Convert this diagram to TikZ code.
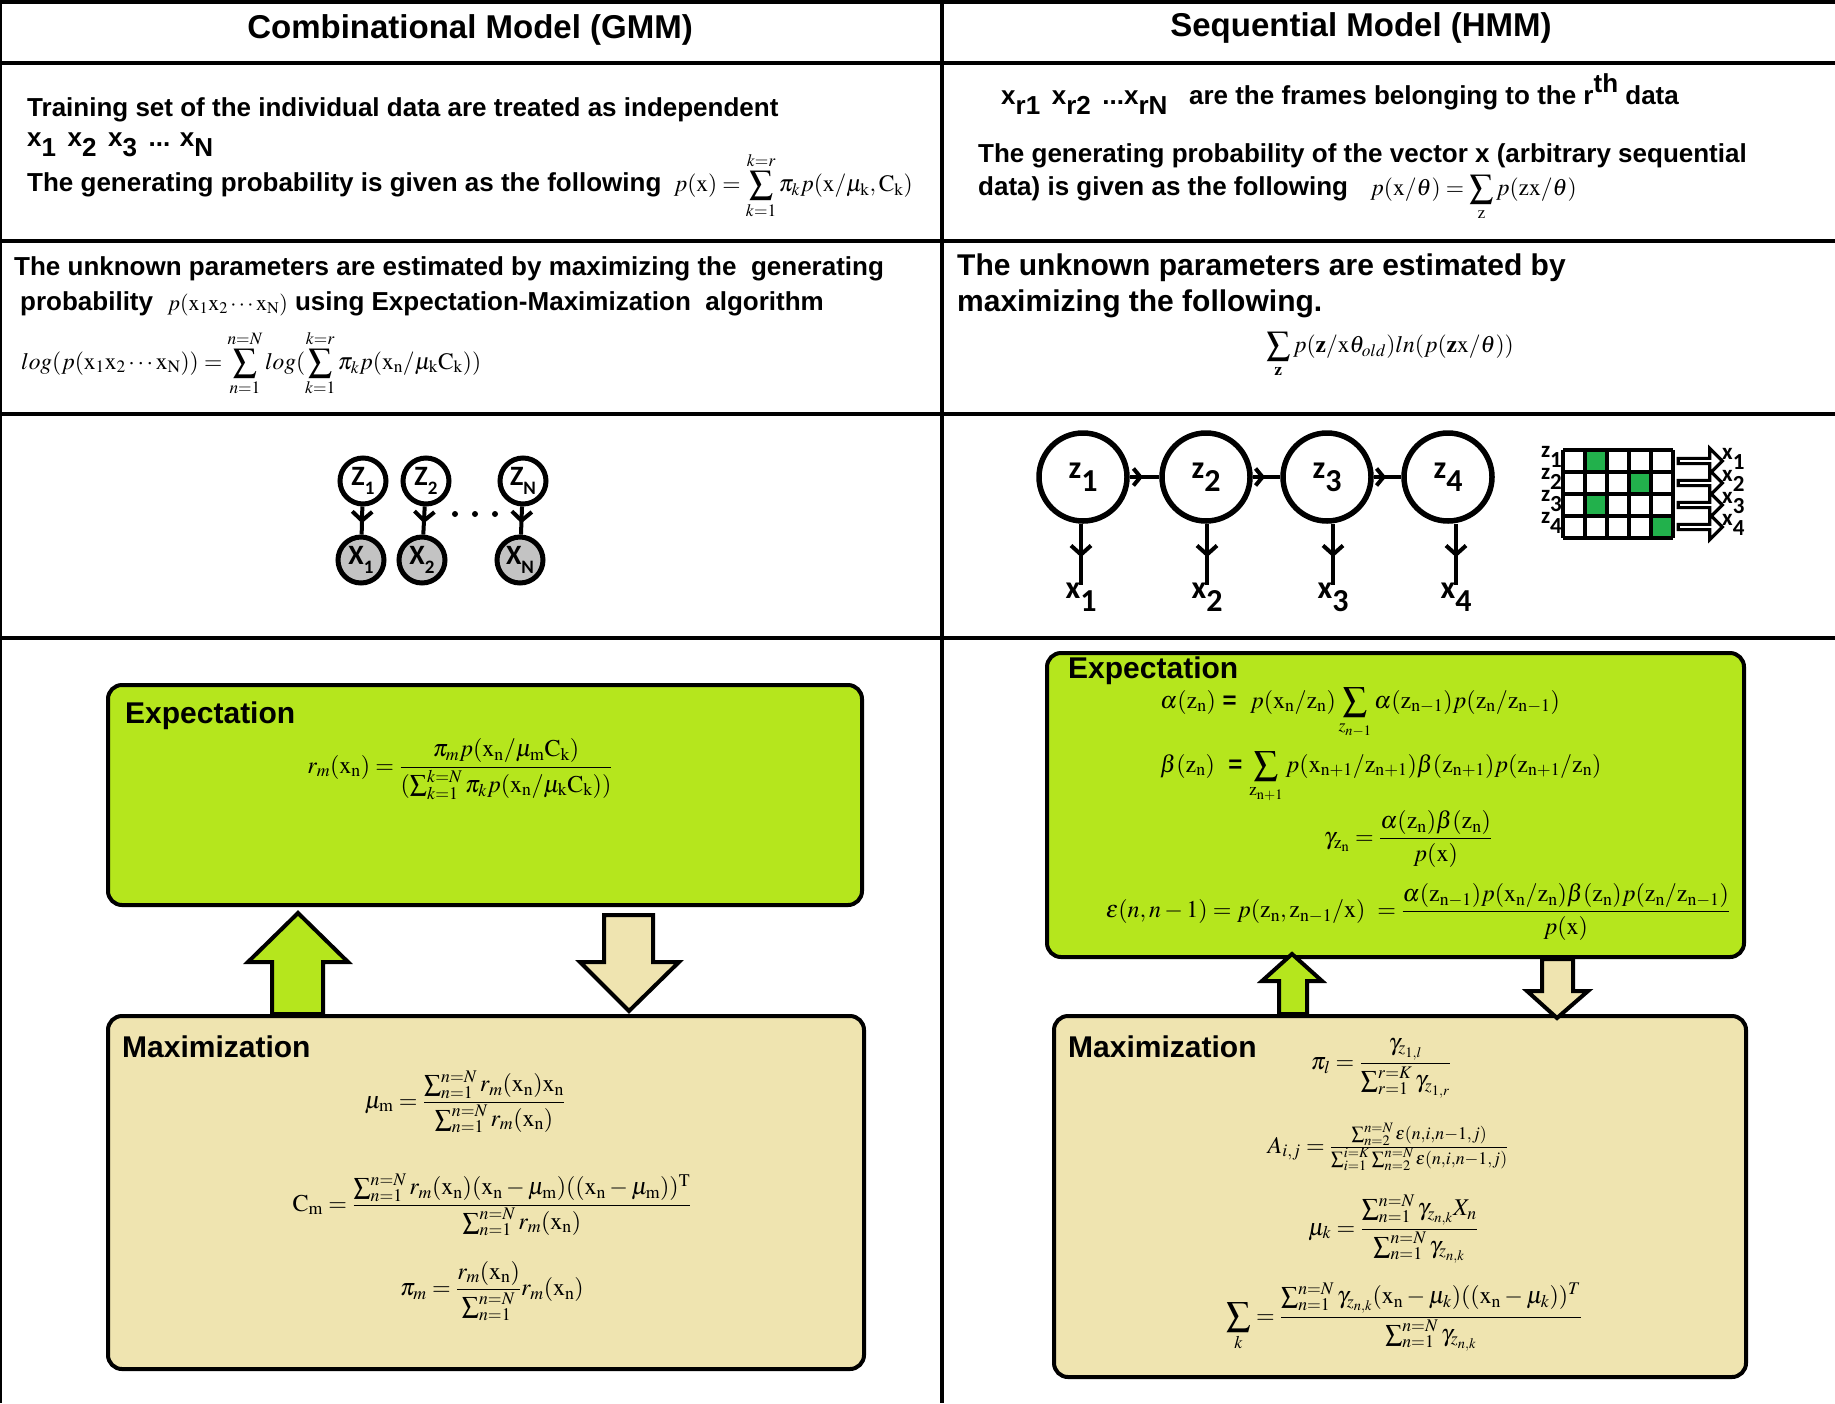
\documentclass[tikz,border=0pt]{standalone}
\usepackage{mathptmx}
\usepackage[no-math]{fontspec}
\setmainfont{Liberation Sans}
\newfontfamily\calib{Carlito}
\usetikzlibrary{positioning}
\usetikzlibrary{calc}
\usetikzlibrary{arrows,arrows.meta}
\usetikzlibrary{decorations.markings}
\usetikzlibrary{shapes}
\definecolor{expgreen}{HTML}{B5E61D}
\definecolor{maxtan}{HTML}{EFE4B0}
\definecolor{cellgreen}{HTML}{22B14C}
\definecolor{nodegray}{HTML}{C3C3C3}
\newcommand{\lowsub}[1]{\raisebox{-0.4em}{#1}}
\newcommand{\upsup}[1]{\raisebox{0.45em}{#1}}
\newcommand{\gsub}[1]{\raisebox{-0.35em}{\fontsize{19}{19}\selectfont #1}}
\begin{document}
\begin{tikzpicture}[x=1pt, y=-1pt, font=\fontsize{26}{31}\selectfont\bfseries]
% -------------------------------------------------
\tikzset{
  rule/.style={line width=4.5},
  txt/.style={anchor=west, inner sep=0},
  big/.style={txt, font=\fontsize{30}{36}\selectfont\bfseries},
  head/.style={inner sep=0, font=\fontsize{33}{40}\selectfont\bfseries},
  eqn/.style={inner sep=0, font=\fontsize{23.5}{28}\selectfont},
  beqn/.style={inner sep=0, font=\fontsize{24}{29}\selectfont},
  box/.style={draw, line width=4, rounded corners=14},
  lat/.style={circle, draw, line width=5, minimum size=46, inner sep=0, font=\fontsize{28}{28}\selectfont\calib\bfseries},
  obs/.style={lat, fill=nodegray},
  hid/.style={circle, draw, line width=5.5, minimum size=88, inner sep=0, font=\fontsize{32}{32}\selectfont\calib\bfseries},
  lbl/.style={inner sep=0, font=\fontsize{32}{32}\selectfont\calib\bfseries},
  sml/.style={inner sep=0, font=\fontsize{23}{23}\selectfont\calib\bfseries},
  link/.style={line width=4, postaction={decorate}, decoration={markings,
    mark=at position #1 with {\arrow{Straight Barb[length=9pt,width=20pt]}}}},
  link/.default=0.6,
  cell/.style={line width=3.5},
  hol/.style={single arrow, draw, fill=white, line width=3.2, minimum height=44, minimum width=25, single arrow head extend=6, inner sep=0},
  blk/.style={draw, line width=4, line join=miter},
}
\useasboundingbox (0,0) rectangle (1835,1403);

    % table rules
    \draw[rule] (0,2) -- (1835,2);                  % top
    \draw[rule] (0,63) -- (1835,63);                % under headers
    \draw[rule] (0,241) -- (1835,241);              % row 1
    \draw[rule] (0,414) -- (1835,414);              % row 2
    \draw[rule] (0,638) -- (1835,638);              % row 3
    \draw[rule] (942,0) -- (942,1403);              % middle
    \draw[line width=2.5] (1,0) -- (1,1403);        % left edge

    \node[head] (hgm) at (470,30) {Combinational Model (GMM)};
    \node[head] (hhm) at (1361,28) {Sequential Model (HMM)};

    % row 1
    \node[txt] (tr1) at (27,110) {Training set of the individual data are treated as independent};
    \node[txt] (tr2) at (27,145) {x\lowsub{1} \,x\lowsub{2} \,x\lowsub{3} \,... x\lowsub{N}};
    \node[txt] (tr3) at (27,185) {The generating probability is given as the following};
    \node[eqn, anchor=base west] (pgm) at ([xshift=12pt]tr3.base east)
      {$\displaystyle p(\mathrm{x})=\sum_{k=1}^{k=r}\pi_k p(\mathrm{x}/\mu_{\mathrm{k}},\mathrm{C}_{\mathrm{k}})$};

    \node[txt] (fr1) at (1001,94) {x\lowsub{r1} \,x\lowsub{r2} \,...x\lowsub{rN} \ \ are the frames belonging to the r\upsup{th} data};
    \node[txt] (fr2) at (978,156) {The generating probability of the vector x (arbitrary sequential};
    \node[txt] (fr3) at (978,189) {data) is given as the following};
    \node[eqn, anchor=base west] (phm) at ([xshift=22pt]fr3.base east)
      {$\displaystyle p(\mathrm{x}/\theta)=\sum_{\mathrm{z}}p(\mathrm{zx}/\theta)$};

    % row 2
    \node[txt] (ul1) at (14,269) {The unknown parameters are estimated by maximizing the \ generating};
    \node[txt] (ul2) at (20,304) {probability \ {\fontsize{22}{26}\selectfont$p(\mathrm{x_1x_2}\cdots\mathrm{x_N})$} using Expectation-Maximization \ algorithm};
    \node[eqn, anchor=west] (lgl) at (21,363)
      {$\displaystyle log(p(\mathrm{x_1x_2}\cdots\mathrm{x_N}))=\sum_{n=1}^{n=N}log(\sum_{k=1}^{k=r}\pi_k p(\mathrm{x_n}/\mu_{\mathrm{k}}\mathrm{C_k}))$};

    \node[big] (ur1) at (957,268) {The unknown parameters are estimated by};
    \node[big] (ur2) at (957,304) {maximizing the following.};
    \node[eqn] (ufm) at (1390,355)
      {$\displaystyle\sum_{\mathbf{z}}p(\mathbf{z}/\mathrm{x}\theta_{old})ln(p(\mathbf{z}\mathrm{x}/\theta))$};

    % row 3, mixture graph
    \node[lat] (z1) at (363,481) {Z\gsub{1}};
    \node[lat] (z2) at (426,481) {Z\gsub{2}};
    \node[lat] (zn) at (523,481) {Z\gsub{N}};
    \node[obs] (x1) at (361,560) {X\gsub{1}};
    \node[obs] (x2) at (422,560) {X\gsub{2}};
    \node[obs] (xn) at (520,560) {X\gsub{N}};
    \foreach \d in {455,475,495} \fill (\d,514) circle (3);
    \draw[link] (z1) -- (x1);
    \draw[link] (z2) -- (x2);
    \draw[link] (zn) -- (xn);

    % row 3, chain
    \node[hid] (h1) at (1083,477) {z\lowsub{1}};
    \node[hid] (h2) at (1206,477) {z\lowsub{2}};
    \node[hid] (h3) at (1327,477) {z\lowsub{3}};
    \node[hid] (h4) at (1448,477) {z\lowsub{4}};
    \node[lbl] (o1) at (1081,597) {x\lowsub{1}};
    \node[lbl] (o2) at (1207,597) {x\lowsub{2}};
    \node[lbl] (o3) at (1333,597) {x\lowsub{3}};
    \node[lbl] (o4) at (1456,597) {x\lowsub{4}};
    \foreach \a/\b in {h1/h2,h2/h3,h3/h4}
      \draw[line width=4, postaction={decorate}, decoration={markings,
        mark=at position 0.45 with {\arrow{Straight Barb[length=7pt,width=17pt]}}}] (\a) -- (\b);
    \foreach \a/\b in {h1/o1,h2/o2,h3/o3,h4/o4}
      \draw[link=0.55] (\a.south -| \b.north) -- ([yshift=-2pt]\b.north);

    % emission grid
    \foreach \c/\r in {2/1,4/2,2/3,5/4}
      \fill[cellgreen] (1563+22*\c-22,450+22*\r-22) rectangle ++(22,22);
    \foreach \i in {0,...,5} \draw[cell] (1563+22*\i,450) -- (1563+22*\i,538);
    \foreach \j in {0,...,4} \draw[cell] (1563,450+22*\j) -- (1673,450+22*\j);
    \foreach \r in {1,...,4} {
      \node[sml, anchor=east] (zl\r) at (1562,457+22*\r-22) {z\lowsub{\r}};
      \node[hol] (ar\r) at (1699,461+22*\r-22) {};
      \node[sml, anchor=west] (xl\r) at (1722,459+22*\r-22) {x\lowsub{\r}};
    }

    % row 4, GMM
    \draw[box, fill=expgreen] (108,685) rectangle (862,905);
    \node[big] (egm) at (125,716) {Expectation};
    \node[beqn] (rmx) at (460,769)
      {$\displaystyle r_m(\mathrm{x_n})=\frac{\pi_m p(\mathrm{x_n}/\mu_{\mathrm{m}}\mathrm{C_k})}{(\sum_{k=1}^{k=N}\pi_k p(\mathrm{x_n}/\mu_{\mathrm{k}}\mathrm{C_k}))}$};

    \draw[box, fill=maxtan] (108,1016) rectangle (864,1369);
    \node[big] (mgm) at (122,1047) {Maximization};
    \node[beqn] (mum) at (465,1102)
      {$\displaystyle \mu_{\mathrm{m}}=\frac{\sum_{n=1}^{n=N}r_m(\mathrm{x_n})\mathrm{x_n}}{\sum_{n=1}^{n=N}r_m(\mathrm{x_n})}$};
    \node[beqn] (cmm) at (492,1205)
      {$\displaystyle \mathrm{C_m}=\frac{\sum_{n=1}^{n=N}r_m(\mathrm{x_n})(\mathrm{x_n}-\mu_{\mathrm{m}})((\mathrm{x_n}-\mu_{\mathrm{m}}))^{\mathrm{T}}}{\sum_{n=1}^{n=N}r_m(\mathrm{x_n})}$};
    \node[beqn] (pim) at (492,1291)
      {$\displaystyle \pi_m=\frac{r_m(\mathrm{x_n})}{\sum_{n=1}^{n=N}}r_m(\mathrm{x_n})$};

    \draw[blk, fill=expgreen] (248,962) -- (298,913) -- (348,962) -- (323,962) -- (323,1014) -- (272,1014) -- (272,962) -- cycle;   % E <- M
    \draw[blk, fill=maxtan] (580,962) -- (629,1011) -- (679,962) -- (653,962) -- (653,915) -- (604,915) -- (604,962) -- cycle;   % E -> M

    % row 4, HMM
    \draw[box, fill=expgreen] (1047,653) rectangle (1744,957);
    \node[big] (ehm) at (1068,671) {Expectation};
    \node[beqn, anchor=west] (alp) at (1160,713)
      {$\alpha(\mathrm{z_n})$ \textbf{=} \ $\displaystyle p(\mathrm{x_n}/\mathrm{z_n})\sum_{z_{n-1}}\alpha(\mathrm{z_{n-1}})p(\mathrm{z_n}/\mathrm{z_{n-1}})$};
    \node[beqn, anchor=west] (bet) at (1160,777)
      {$\beta(\mathrm{z_n})$ \ \textbf{=} $\displaystyle\sum_{\mathrm{z_{n+1}}}p(\mathrm{x_{n+1}}/\mathrm{z_{n+1}})\beta(\mathrm{z_{n+1}})p(\mathrm{z_{n+1}}/\mathrm{z_n})$};
    \node[beqn] (gam) at (1408,839)
      {$\displaystyle\gamma_{\mathrm{z_n}}=\frac{\alpha(\mathrm{z_n})\beta(\mathrm{z_n})}{p(\mathrm{x})}$};
    \node[beqn] (eps) at (1418,912)
      {$\displaystyle\varepsilon(n,n-1)=p(\mathrm{z_n},\mathrm{z_{n-1}}/\mathrm{x})\ =\frac{\alpha(\mathrm{z_{n-1}})p(\mathrm{x_n}/\mathrm{z_n})\beta(\mathrm{z_n})p(\mathrm{z_n}/\mathrm{z_{n-1}})}{p(\mathrm{x})}$};

    \draw[box, fill=maxtan] (1054,1016) rectangle (1746,1377);
    \node[big] (mhm) at (1068,1047) {Maximization};
    \node[beqn] (pil) at (1381,1068)
      {$\displaystyle\pi_l=\frac{\gamma_{z_{1,l}}}{\sum_{r=1}^{r=K}\gamma_{z_{1,r}}}$};
    \node[beqn] (aij) at (1388,1147)
      {$A_{i,j}=\frac{\sum_{n=2}^{n=N}\varepsilon(n,i,n-1,j)}{\sum_{i=1}^{i=K}\sum_{n=2}^{n=N}\varepsilon(n,i,n-1,j)}$};
    \node[beqn] (muk) at (1393,1229)
      {$\displaystyle\mu_k=\frac{\sum_{n=1}^{n=N}\gamma_{z_{n,k}}X_n}{\sum_{n=1}^{n=N}\gamma_{z_{n,k}}}$};
    \node[beqn] (sgk) at (1404,1317)
      {$\displaystyle\sum_k=\frac{\sum_{n=1}^{n=N}\gamma_{z_{n,k}}(\mathrm{x_n}-\mu_k)((\mathrm{x_n}-\mu_k))^T}{\sum_{n=1}^{n=N}\gamma_{z_{n,k}}}$};

    \draw[blk, fill=expgreen] (1262,981) -- (1292,954) -- (1322,981) -- (1307,981) -- (1307,1014) -- (1279,1014) -- (1279,981) -- cycle;   % E <- M
    \draw[blk, fill=maxtan] (1527,991) -- (1557,1018) -- (1588,991) -- (1573,991) -- (1573,959) -- (1542,959) -- (1542,991) -- cycle;   % E -> M

\end{tikzpicture}
\end{document}
